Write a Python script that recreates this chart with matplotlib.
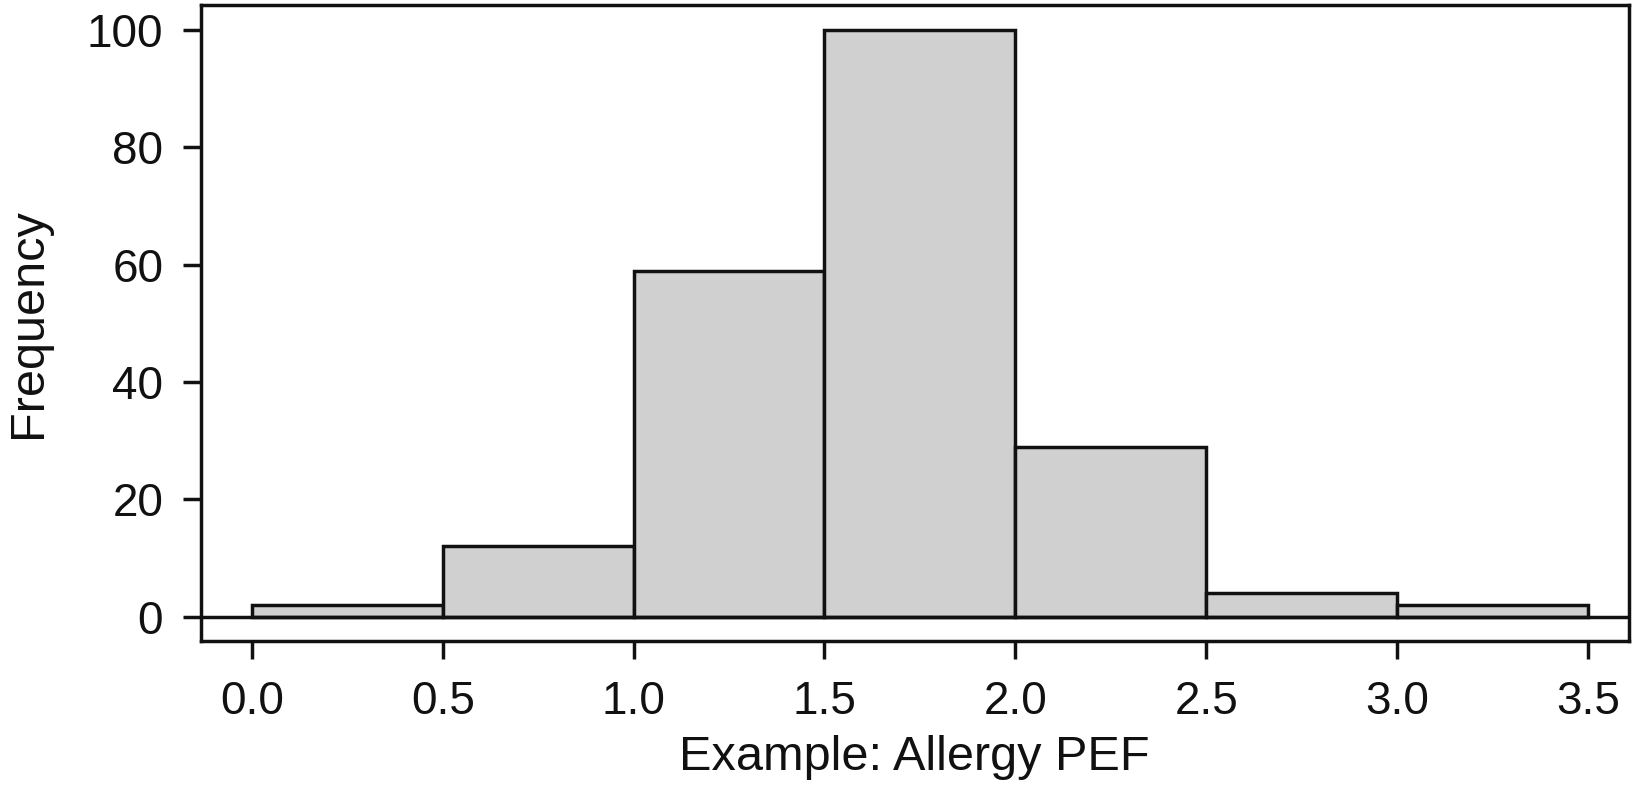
import matplotlib
matplotlib.use('Agg')
import matplotlib.pyplot as plt
import numpy as np

plt.rcParams['font.family'] = ['Liberation Sans', 'DejaVu Sans']

# 直方图数据
bin_edges = [0.0, 0.5, 1.0, 1.5, 2.0, 2.5, 3.0, 3.5]
counts = [2, 12, 59, 100, 29, 4, 2]
x_ticks = [0.0, 0.5, 1.0, 1.5, 2.0, 2.5, 3.0, 3.5]
y_ticks = [0, 20, 40, 60, 80, 100]

fig = plt.figure(figsize=(16.32, 8.08), dpi=100)
ax = fig.add_axes([0.123, 0.207, 0.875, 0.787])

lw = 2.5
lefts = np.array(bin_edges[:-1])
widths = np.diff(bin_edges)
ax.bar(lefts, counts, width=widths, align='edge', color='#d0d0d0',
       edgecolor='#111111', linewidth=lw, zorder=2)
ax.axhline(0, color='#111111', linewidth=lw, zorder=3)

ax.set_xlim(-0.134, 3.607)
ax.set_ylim(-4.1, 104.3)
ax.set_xticks(x_ticks)
ax.set_xticklabels([f"{v:.1f}" for v in x_ticks])
ax.set_yticks(y_ticks)

for s in ax.spines.values():
    s.set_linewidth(lw)
    s.set_color('#111111')

ax.tick_params(axis='both', length=13, width=lw, color='#111111',
               labelsize=33, labelcolor='#111111')
ax.tick_params(axis='y', pad=14)
ax.tick_params(axis='x', pad=15)

ax.set_xlabel("Example: Allergy PEF", fontsize=35, color='#111111', labelpad=8)
ax.set_ylabel("Frequency", fontsize=35, color='#111111', labelpad=26)

plt.savefig("out.png", dpi=100)
